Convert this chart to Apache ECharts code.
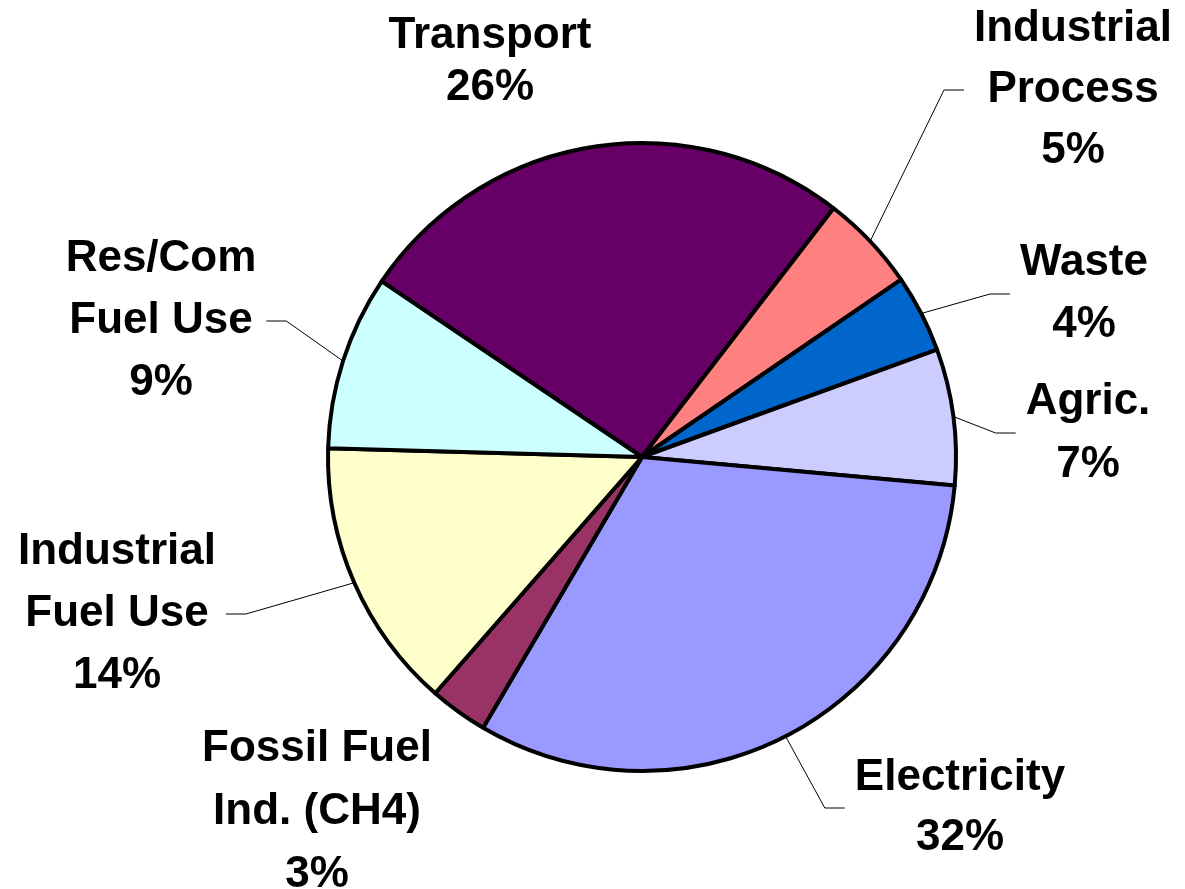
<!DOCTYPE html>
<html>
<head>
<meta charset="utf-8">
<script src="https://cdn.jsdelivr.net/npm/echarts@6/dist/echarts.min.js"></script>
<style>
html,body{margin:0;padding:0;background:#fff;}
#chart{width:1185px;height:889px;}
</style>
</head>
<body>
<div id="chart"></div>
<script>
// ---- data ----
const categories = ['Transport', 'Industrial\nProcess', 'Waste', 'Agric.', 'Electricity', 'Fossil Fuel\nInd. (CH4)', 'Industrial\nFuel Use', 'Res/Com\nFuel Use'];
const shares = [26, 5, 4, 7, 32, 3, 14, 9];
const colors = ['#660066', '#FF8080', '#0066CC', '#CCCCFF', '#9999FF', '#993366', '#FFFFCC', '#CCFFFF'];

// ---- label placement (layout only) ----
const labelPos = [[490, 62], [1073, 90], [1084, 294], [1088, 433], [960, 808], [317, 812], [117, 614], [161, 321]];
const labelLineHeight = [52, 61, 62, 63, 60, 63, 62, 62];
const showLine = [false, true, true, true, true, false, true, true];

const chart = echarts.init(document.getElementById('chart'), null, {renderer: 'canvas'});
chart.setOption({
  backgroundColor: '#ffffff',
  animation: false,
  series: [{
    type: 'pie',
    center: [642, 457],
    radius: 314,
    startAngle: 146,
    clockwise: true,
    avoidLabelOverlap: false,
    itemStyle: {borderColor: '#000', borderWidth: 4},
    label: {
      show: true,
      position: 'outside',
      formatter: p => p.name + '\n' + p.value + '%',
      fontFamily: '"Liberation Sans", Arial, sans-serif',
      fontWeight: 'bold',
      fontSize: 44,
      color: '#000',
      align: 'center',
      padding: [0, 10]
    },
    labelLine: {
      show: true,
      length: 20,
      length2: 20,
      smooth: false,
      lineStyle: {color: '#000', width: 1}
    },
    labelLayout: params => ({
      x: labelPos[params.dataIndex][0],
      y: labelPos[params.dataIndex][1],
      align: 'center',
      verticalAlign: 'middle'
    }),
    emphasis: {disabled: true},
    data: categories.map((c, i) => ({
      name: c,
      value: shares[i],
      itemStyle: {color: colors[i]},
      label: {lineHeight: labelLineHeight[i]},
      labelLine: {show: showLine[i]}
    }))
  }]
});
</script>
</body>
</html>
